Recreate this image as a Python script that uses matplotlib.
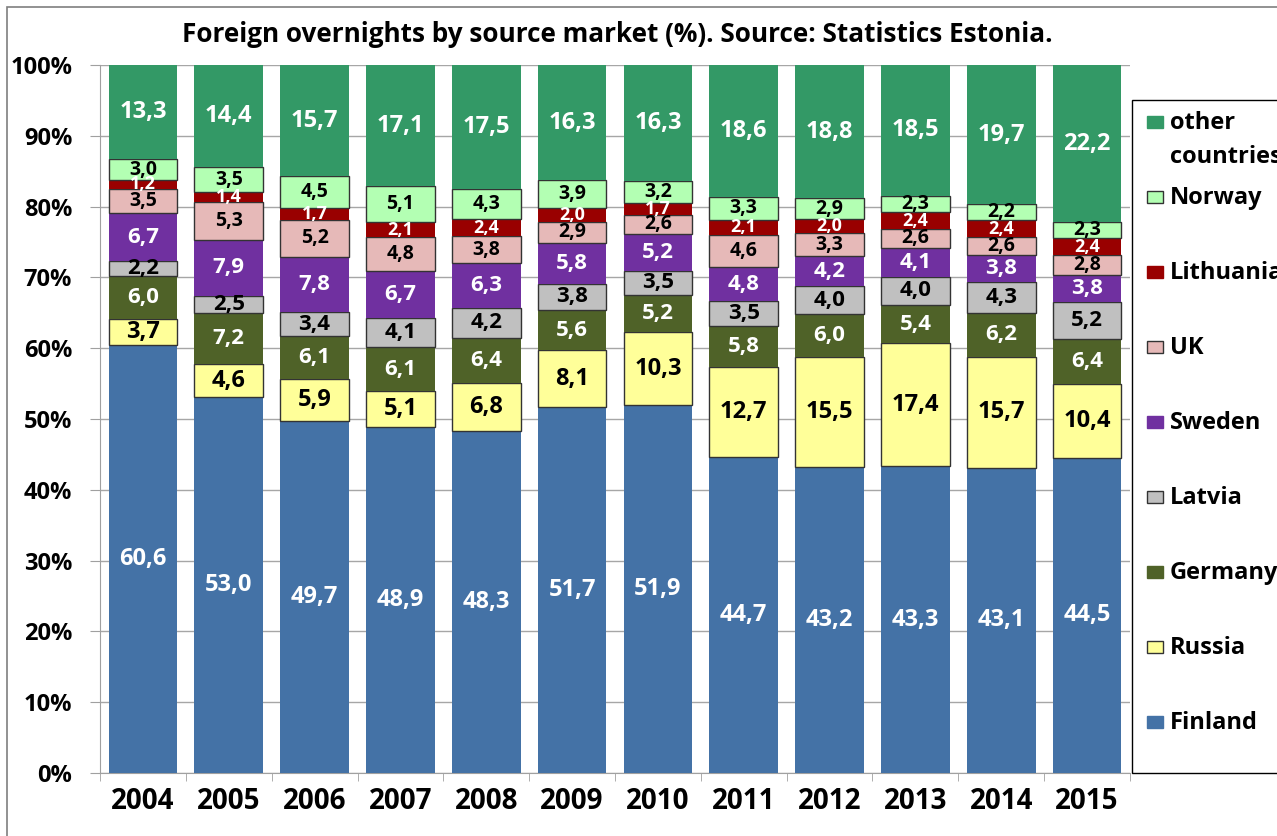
import numpy as np
import matplotlib
matplotlib.use("Agg")
import matplotlib.pyplot as plt
from matplotlib.patches import Rectangle

plt.rcParams['font.family'] = ['Open Sans', 'DejaVu Sans']
plt.rcParams['font.weight'] = 'bold'

years = ['2004', '2005', '2006', '2007', '2008', '2009', '2010',
         '2011', '2012', '2013', '2014', '2015']

finland = [60.6, 53.0, 49.7, 48.9, 48.3, 51.7, 51.9, 44.7, 43.2, 43.3, 43.1, 44.5]
russia = [3.7, 4.6, 5.9, 5.1, 6.8, 8.1, 10.3, 12.7, 15.5, 17.4, 15.7, 10.4]
germany = [6.0, 7.2, 6.1, 6.1, 6.4, 5.6, 5.2, 5.8, 6.0, 5.4, 6.2, 6.4]
latvia = [2.2, 2.5, 3.4, 4.1, 4.2, 3.8, 3.5, 3.5, 4.0, 4.0, 4.3, 5.2]
sweden = [6.7, 7.9, 7.8, 6.7, 6.3, 5.8, 5.2, 4.8, 4.2, 4.1, 3.8, 3.8]
uk = [3.5, 5.3, 5.2, 4.8, 3.8, 2.9, 2.6, 4.6, 3.3, 2.6, 2.6, 2.8]
lithuania = [1.2, 1.4, 1.7, 2.1, 2.4, 2.0, 1.7, 2.1, 2.0, 2.4, 2.4, 2.4]
norway = [3.0, 3.5, 4.5, 5.1, 4.3, 3.9, 3.2, 3.3, 2.9, 2.3, 2.2, 2.3]
other = [13.3, 14.4, 15.7, 17.1, 17.5, 16.3, 16.3, 18.6, 18.8, 18.5, 19.7, 22.2]

series_names = ['Finland', 'Russia', 'Germany', 'Latvia', 'Sweden', 'UK',
                'Lithuania', 'Norway', 'other countries']
series_values = [finland, russia, germany, latvia, sweden, uk, lithuania, norway, other]

# style per series: fill, text colour, edge?, label size
colors = ['#4472A6', '#FFFF99', '#4F6228', '#C0C0C0', '#7030A0', '#E6B9B8',
          '#990000', '#B3FFB3', '#339966']
text_colors = ['white', 'black', 'white', 'black', 'white', 'black',
               'white', 'black', 'white']
edged = [False, True, False, True, False, True, False, True, False]
label_sizes = [17, 17, 16, 16, 16, 14, 13, 14, 17]

W, H = 1277, 836
fig = plt.figure(figsize=(W / 100, H / 100), dpi=100)
ax = fig.add_axes([100 / W, 1 - 773 / H, 1030 / W, (773 - 65) / H])

data = np.array(series_values)
shares = data / data.sum(axis=0) * 100
x = np.arange(len(years))
bottom = np.zeros(len(years))

for i, name in enumerate(series_names):
    ax.bar(x, shares[i], width=0.8, bottom=bottom, color=colors[i],
           edgecolor='#333333' if edged[i] else colors[i],
           linewidth=1.0 if edged[i] else 0, zorder=3)
    for j in range(len(years)):
        ax.text(x[j], bottom[j] + shares[i][j] / 2,
                f"{data[i][j]:.1f}".replace('.', ','),
                ha='center', va='center', color=text_colors[i],
                fontsize=label_sizes[i], fontweight='bold', zorder=4)
    bottom += shares[i]

ax.set_xlim(-0.5, len(years) - 0.5)
ax.set_ylim(0, 100)
ax.set_yticks(np.arange(0, 101, 10))
ax.set_yticklabels([f"{v}%" for v in range(0, 101, 10)])
ax.set_xticks(x)
ax.set_xticklabels(years)
ax.set_xticks(np.arange(-0.5, len(years), 1), minor=True)

ax.tick_params(axis='y', length=7, color='#A0A0A0', pad=13, labelsize=17)
ax.tick_params(axis='x', which='major', length=0, pad=10, labelsize=20)
ax.tick_params(axis='x', which='minor', length=6, color='#A0A0A0')
ax.grid(axis='y', color='#A6A6A6', linewidth=1, zorder=0)
ax.set_axisbelow(True)
for s in ['top', 'right']:
    ax.spines[s].set_visible(False)
for s in ['left', 'bottom']:
    ax.spines[s].set_color('#A0A0A0')

fig.text(617 / W, 1 - 34 / H,
         'Foreign overnights by source market (%). Source: Statistics Estonia.',
         ha='center', va='center', fontsize=18.8, fontweight='bold')

# legend drawn by hand so entries sit evenly like the original
fig.patches.append(Rectangle((1132 / W, 1 - 773 / H), 200 / W, 673 / H,
                             transform=fig.transFigure, facecolor='white',
                             edgecolor='black', linewidth=1))
for k, i in enumerate(range(len(series_names) - 1, -1, -1)):
    yc = 122 + 75 * k
    fig.patches.append(Rectangle((1147 / W, 1 - (yc + 6) / H), 16 / W, 12 / H,
                                 transform=fig.transFigure, facecolor=colors[i],
                                 edgecolor='#333333' if edged[i] else colors[i],
                                 linewidth=1))
    lines = series_names[i].split(' ') if i == len(series_names) - 1 else [series_names[i]]
    for m, line in enumerate(lines):
        fig.text(1170 / W, 1 - (yc + 1 + 34 * m) / H, line,
                 ha='left', va='center', fontsize=17, fontweight='bold')

# outer chart border
fig.patches.append(Rectangle((7 / W, -0.05), 1.1, 1 - 7 / H + 0.05,
                             transform=fig.transFigure, facecolor='none',
                             edgecolor='#7F7F7F', linewidth=1.2))

fig.savefig('out.png', dpi=100)
